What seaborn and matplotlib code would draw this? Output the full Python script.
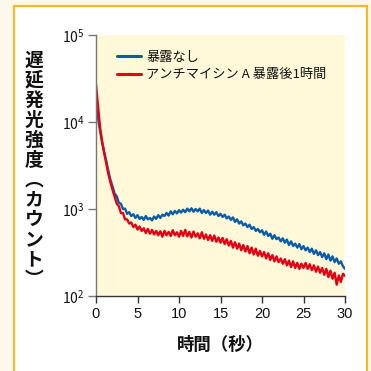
import numpy as np
import pandas as pd
import seaborn as sns
import matplotlib
matplotlib.use("Agg")
import matplotlib.pyplot as plt
from matplotlib.patches import Rectangle

# Delayed luminescence time courses (0 - 30 s, 0.25 s steps)
time_s = [i * 0.25 for i in range(121)]

counts_control = [
    15500, 11000, 7800, 5800, 4500, 3500, 2700, 2150, 1800, 1500,
    1400, 1180, 1150, 1000, 1010, 880, 920, 830, 870, 790,
    850, 770, 810, 750, 830, 760, 790, 740, 820, 770,
    850, 790, 860, 830, 900, 840, 940, 870, 950, 890,
    970, 910, 980, 920, 1010, 940, 1020, 930, 1000, 940,
    1010, 900, 970, 900, 960, 860, 930, 860, 920, 830,
    880, 810, 860, 780, 820, 750, 800, 710, 760, 680,
    720, 650, 680, 620, 660, 590, 620, 560, 590, 540,
    570, 505, 550, 490, 520, 455, 500, 450, 470, 425,
    460, 410, 445, 385, 425, 375, 400, 360, 395, 345,
    375, 335, 360, 320, 350, 305, 335, 295, 320, 280,
    310, 265, 300, 255, 285, 245, 270, 235, 250, 220,
    205,
]

counts_antimycin = [
    27000, 15000, 8500, 5800, 4300, 3300, 2500, 2000, 1650, 1380,
    1150, 1080, 900, 900, 760, 760, 680, 700, 620, 660,
    580, 630, 560, 600, 530, 590, 520, 575, 510, 560,
    500, 555, 480, 560, 500, 545, 490, 570, 500, 540,
    480, 560, 490, 575, 485, 545, 470, 550, 480, 525,
    460, 540, 455, 510, 440, 500, 430, 495, 420, 470,
    410, 465, 395, 450, 380, 430, 360, 415, 350, 400,
    335, 385, 325, 375, 310, 360, 300, 350, 290, 330,
    285, 320, 270, 310, 260, 295, 250, 285, 245, 270,
    235, 265, 225, 255, 215, 250, 210, 240, 205, 235,
    210, 240, 205, 232, 198, 225, 190, 218, 185, 210,
    175, 205, 165, 195, 158, 185, 135, 172, 145, 180,
    170,
]

series_names = ["暴露なし", "アンチマイシン A 暴露後1時間"]
series_colors = ["#0a5cab", "#e60014"]

x_ticks = [0, 5, 10, 15, 20, 25, 30]
y_ticks = [1e2, 1e3, 1e4, 1e5]
y_tick_labels = [r"$\mathregular{10^2}$", r"$\mathregular{10^3}$",
                 r"$\mathregular{10^4}$", r"$\mathregular{10^5}$"]

y_title = "遅延発光強度︵カウント︶"
x_title = "時間（秒）"

df = pd.concat([
    pd.DataFrame({"time": time_s, "counts": counts_control, "series": series_names[0]}),
    pd.DataFrame({"time": time_s, "counts": counts_antimycin, "series": series_names[1]}),
], ignore_index=True)

sns.set_style("ticks")
plt.rcParams["font.family"] = ["Noto Sans CJK JP", "DejaVu Sans"]
plt.rcParams["mathtext.fontset"] = "custom"
plt.rcParams["mathtext.rm"] = "Liberation Sans"
plt.rcParams["text.color"] = "#111111"

fig = plt.figure(figsize=(3.71, 3.71), dpi=100, facecolor="#fdf8ec")
# white panel with an orange frame, kept behind the axes
frame = Rectangle((13.5 / 371, -0.05), (366.5 - 13.5) / 371, 1.05 - 5.5 / 371,
                  transform=fig.transFigure, facecolor="white",
                  edgecolor="#f8b62d", linewidth=1.6, zorder=-10)
fig.patches.append(frame)

ax = fig.add_axes([96 / 371, 1 - 296 / 371, (345 - 96) / 371, (296 - 35) / 371])
ax.set_zorder(5)
ax.set_facecolor("#fff9d9")

sns.lineplot(data=df, x="time", y="counts", hue="series",
             palette=dict(zip(series_names, series_colors)),
             linewidth=1.7, ax=ax)

ax.set_yscale("log")
ax.set_xlim(0, 30)
ax.set_ylim(1e2, 1e5)
ax.set_xticks(x_ticks)
ax.set_xticklabels([str(v) for v in x_ticks], fontsize=10.5, family="Liberation Sans",
                   color="#111111")
ax.set_yticks(y_ticks)
ax.set_yticklabels(y_tick_labels, fontsize=10, color="#111111")
ax.yaxis.set_minor_locator(matplotlib.ticker.NullLocator())
ax.tick_params(axis="x", direction="out", length=5, width=1, color="#333333", pad=3)
ax.tick_params(axis="y", direction="out", length=6, width=1, color="#777777", pad=2)

for side in ("top", "right"):
    ax.spines[side].set_visible(False)
ax.spines["left"].set_color("#777777")
ax.spines["bottom"].set_color("#333333")
ax.spines["left"].set_linewidth(1.0)
ax.spines["bottom"].set_linewidth(1.0)

ax.set_xlabel("")
ax.set_ylabel("")
fig.text(220.5 / 371, 1 - 345 / 371, x_title, ha="center", va="center",
         fontsize=12.5, fontweight="bold", zorder=6)
fig.text(34 / 371, 1 - 170 / 371, "\n".join(y_title), ha="center", va="center",
         fontsize=13.5, fontweight="bold", linespacing=1.06, zorder=6)

leg = ax.legend(loc="upper left", bbox_to_anchor=(0.065, 0.96), frameon=False,
                fontsize=9.5, handlelength=1.75, handletextpad=0.45, labelspacing=0.35,
                borderaxespad=0)
for line in leg.get_lines():
    line.set_linewidth(2.2)

fig.savefig("out.png", dpi=100, facecolor=fig.get_facecolor())
